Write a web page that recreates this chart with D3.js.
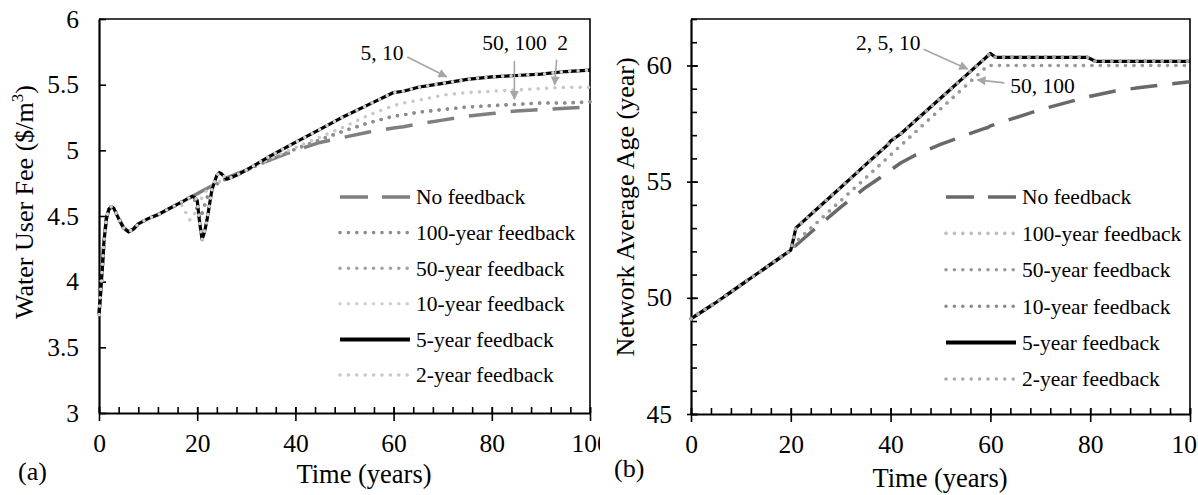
<!DOCTYPE html>
<html>
<head>
<meta charset="utf-8">
<script src="https://cdn.jsdelivr.net/npm/d3@7"></script>
<style>
  html, body { margin: 0; padding: 0; background: #fff; }
  svg { display: block; }
  text { font-family: "Liberation Serif", "Times New Roman", serif; fill: #000; }
</style>
</head>
<body>
<svg id="chart" width="1198" height="495"></svg>
<script>
// ---------- Panel (a): water user fee ----------
const feeYears = [0,0.5,1,1.5,2,2.5,3,4,5,6,7,8,10,12,14,16,
  17,18,18.5,19,19.5,20,20.5,21,21.5,22,23,24,24.5,25,26,28,30,35,40,45,50,55,60,62,65,70,75,80,85,90,95,100];
const feeStart = [3.75,4.0,4.3,4.48,4.55,4.57,4.56,4.48,4.41,4.38,4.40,4.44,4.48,4.51,4.55,4.59];
const feeNoFeedback = feeStart.concat([4.61,4.63,4.64,4.65,4.66,4.67,4.68,4.69,4.70,4.71,4.73,4.75,4.76,4.77,4.79,4.82,4.85,4.93,5.00,5.06,5.10,5.14,5.17,5.18,5.20,5.23,5.26,5.28,5.30,5.31,5.32,5.33]);
const fee100 = feeStart.concat([4.61,4.63,4.64,4.65,4.62,4.55,4.48,4.52,4.58,4.64,4.70,4.74,4.76,4.77,4.78,4.81,4.85,4.93,5.01,5.08,5.15,5.21,5.26,5.27,5.29,5.31,5.33,5.34,5.35,5.36,5.36,5.37]);
const fee50 = feeStart.concat([4.61,4.63,4.64,4.65,4.62,4.55,4.48,4.52,4.58,4.64,4.70,4.74,4.76,4.77,4.78,4.81,4.85,4.93,5.01,5.08,5.15,5.21,5.26,5.27,5.29,5.31,5.33,5.34,5.35,5.36,5.36,5.37]);
const fee10 = feeStart.concat([4.61,4.63,4.64,4.65,4.64,4.62,4.45,4.32,4.38,4.47,4.70,4.81,4.83,4.82,4.78,4.81,4.85,4.96,5.06,5.16,5.26,5.35,5.44,5.45,5.48,5.51,5.54,5.56,5.57,5.58,5.60,5.61]);
const fee5 = feeStart.concat([4.61,4.63,4.64,4.65,4.64,4.62,4.45,4.32,4.38,4.47,4.70,4.81,4.83,4.82,4.78,4.81,4.85,4.96,5.06,5.16,5.26,5.35,5.44,5.45,5.48,5.51,5.54,5.56,5.57,5.58,5.60,5.61]);
const fee2 = feeStart.concat([4.58,4.50,4.47,4.48,4.52,4.57,4.61,4.64,4.67,4.70,4.73,4.75,4.76,4.77,4.78,4.81,4.85,4.94,5.02,5.10,5.18,5.27,5.34,5.36,5.38,5.42,5.44,5.45,5.46,5.47,5.48,5.48]);
const feeTicks = [3,3.5,4,4.5,5,5.5,6];

// ---------- Panel (b): network average age ----------
const ageYears = [0,5,10,15,19,20,20.5,21,25,30,35,39.5,40,42,45,50,55,59,59.5,60,61,70,79.5,81,85,90,95,100];
const ageNoFeedback = [49.1,49.8,50.55,51.3,51.9,52.05,52.15,52.25,53.0,53.9,54.75,55.4,55.5,55.8,56.15,56.6,57.0,57.3,57.33,57.4,57.47,58.1,58.65,58.72,58.9,59.05,59.18,59.3];
const age100 = [49.1,49.8,50.55,51.3,51.9,52.05,52.2,52.4,53.19,54.18,55.16,56.05,56.15,56.55,57.14,58.13,59.11,59.9,60.0,60.0,60.0,60.0,60.0,60.0,60.0,60.0,60.0,60.0];
const age50 = [49.1,49.8,50.55,51.3,51.9,52.05,52.2,52.4,53.19,54.18,55.16,56.05,56.15,56.55,57.14,58.13,59.11,59.9,60.0,60.0,60.0,60.0,60.0,60.0,60.0,60.0,60.0,60.0];
const age10 = [49.1,49.8,50.55,51.3,51.9,52.05,52.5,53.0,53.78,54.75,55.73,56.6,56.75,57.05,57.63,58.59,59.55,60.32,60.42,60.52,60.35,60.35,60.35,60.18,60.18,60.18,60.18,60.18];
const age5 = [49.1,49.8,50.55,51.3,51.9,52.05,52.5,53.0,53.78,54.75,55.73,56.6,56.75,57.05,57.63,58.59,59.55,60.32,60.42,60.52,60.35,60.35,60.35,60.18,60.18,60.18,60.18,60.18];
const age2 = [49.1,49.8,50.55,51.3,51.9,52.05,52.5,53.0,53.78,54.75,55.73,56.6,56.75,57.05,57.63,58.59,59.55,60.32,60.42,60.52,60.35,60.35,60.35,60.18,60.18,60.18,60.18,60.18];
const ageTicks = [45,50,55,60];

const legendLabels = ["No feedback","100-year feedback","50-year feedback","10-year feedback","5-year feedback","2-year feedback"];
const xMajor = [0,20,40,60,80,100];

const svg = d3.select("#chart");
const FONT = "'Liberation Serif', 'Times New Roman', serif";
const defs = svg.append("defs");

// arrowhead for the callouts
defs.append("marker")
  .attr("id", "arrowhead").attr("viewBox", "0 0 10 10")
  .attr("refX", 9).attr("refY", 5)
  .attr("markerWidth", 12).attr("markerHeight", 9)
  .attr("markerUnits", "userSpaceOnUse")
  .attr("orient", "auto")
  .append("path").attr("d", "M0,0 L10,5 L0,10 Z").attr("fill", "#a6a6a6");

// each panel is cut at its own edge, like two figures placed side by side
defs.append("clipPath").attr("id", "clipA")
  .append("rect").attr("x", 0).attr("y", 0).attr("width", 600).attr("height", 495);
defs.append("clipPath").attr("id", "clipB")
  .append("rect").attr("x", 600).attr("y", 0).attr("width", 598).attr("height", 495);

function styleFor(kind, color) {
  if (kind === "dash") return { color, width: 3.5, dash: "27 15", cap: "butt" };
  if (kind === "solid") return { color, width: 3.2, dash: null, cap: "butt" };
  return { color, width: 3.6, dash: "0 8.4", cap: "round" };
}

function drawPanel(cfg) {
  const g = svg.append("g").attr("clip-path", `url(#${cfg.clip})`);
  const x = d3.scaleLinear().domain([0, 100]).range([cfg.left, cfg.right]);
  const y = d3.scaleLinear().domain(cfg.yDomain).range([cfg.bottom, cfg.top]);

  // frame (top and right)
  g.append("path")
    .attr("d", `M${cfg.left},${cfg.top}H${cfg.right}V${cfg.bottom}`)
    .attr("fill", "none").attr("stroke", "#000").attr("stroke-width", 1.6);

  // x axis: minor ticks inside, major ticks crossing
  const xMinor = d3.range(0, 101, 4);
  g.append("g").attr("transform", `translate(0,${cfg.bottom})`)
    .call(d3.axisBottom(x).tickValues(xMinor).tickSize(-6).tickFormat(""))
    .call(a => a.select(".domain").remove())
    .call(a => a.selectAll("line").attr("stroke-width", 1.6));
  g.append("g").attr("transform", `translate(0,${cfg.bottom})`)
    .call(d3.axisBottom(x).tickValues(xMajor).tickSize(8).tickPadding(13).tickSizeOuter(0))
    .call(a => a.select(".domain").attr("stroke-width", 2.2))
    .call(a => a.selectAll("line").attr("stroke-width", 1.6))
    .call(a => a.selectAll("text").attr("font-family", FONT).attr("font-size", 25.5).attr("fill", "#000"));
  g.append("g").attr("transform", `translate(0,${cfg.bottom})`)
    .call(d3.axisBottom(x).tickValues(xMajor).tickSize(-6).tickFormat(""))
    .call(a => a.select(".domain").remove())
    .call(a => a.selectAll("line").attr("stroke-width", 1.6));

  // y axis
  if (cfg.yMinor) {
    g.append("g").attr("transform", `translate(${cfg.left},0)`)
      .call(d3.axisLeft(y).tickValues(cfg.yMinor).tickSize(-6).tickFormat(""))
      .call(a => a.select(".domain").remove())
      .call(a => a.selectAll("line").attr("stroke-width", 1.6));
  }
  g.append("g").attr("transform", `translate(${cfg.left},0)`)
    .call(d3.axisLeft(y).tickValues(cfg.yTicks).tickSize(cfg.yOut).tickPadding(cfg.yPad).tickSizeOuter(0)
      .tickFormat(d3.format("")))
    .call(a => a.select(".domain").attr("stroke-width", 2.2))
    .call(a => a.selectAll("line").attr("stroke-width", 1.6))
    .call(a => a.selectAll("text").attr("font-family", FONT).attr("font-size", 25.5).attr("fill", "#000"));
  g.append("g").attr("transform", `translate(${cfg.left},0)`)
    .call(d3.axisLeft(y).tickValues(cfg.yTicks).tickSize(-7).tickFormat(""))
    .call(a => a.select(".domain").remove())
    .call(a => a.selectAll("line").attr("stroke-width", 1.6));

  // series
  const line = d3.line().x(d => x(d[0])).y(d => y(d[1]));
  cfg.order.forEach(i => {
    const s = cfg.series[i];
    const st = styleFor(s.kind, s.color);
    g.append("path")
      .datum(cfg.years.map((t, k) => [t, s.values[k]]))
      .attr("d", line)
      .attr("fill", "none")
      .attr("stroke", st.color)
      .attr("stroke-width", st.width)
      .attr("stroke-linecap", st.cap)
      .attr("stroke-linejoin", "round")
      .attr("stroke-dasharray", st.dash);
  });

  // legend
  cfg.series.forEach((s, i) => {
    const st = styleFor(s.kind, s.color);
    const ly = cfg.legendTop + i * cfg.legendStep;
    g.append("line")
      .attr("x1", cfg.legendX).attr("x2", cfg.legendX + 70)
      .attr("y1", ly).attr("y2", ly)
      .attr("stroke", st.color).attr("stroke-width", s.kind === "solid" ? 4 : st.width)
      .attr("stroke-linecap", st.cap)
      .attr("stroke-dasharray", s.kind === "dash" ? "28 14" : st.dash);
    g.append("text")
      .attr("x", cfg.legendX + 76).attr("y", ly).attr("dy", "0.34em")
      .attr("font-size", 21.5).text(legendLabels[i]);
  });

  // callouts
  cfg.notes.forEach(n => {
    g.append("line")
      .attr("x1", x(n.from[0])).attr("y1", y(n.from[1]))
      .attr("x2", x(n.to[0])).attr("y2", y(n.to[1]))
      .attr("stroke", "#a6a6a6").attr("stroke-width", 1.6)
      .attr("marker-end", "url(#arrowhead)");
    g.append("text")
      .attr("x", x(n.at[0])).attr("y", y(n.at[1])).attr("dy", "0.34em")
      .attr("text-anchor", n.anchor).attr("font-size", 21.5).text(n.text);
  });

  return g;
}

// ---- panel (a)
const ga = drawPanel({
  clip: "clipA",
  left: 99, right: 590, top: 19, bottom: 413,
  yDomain: [3, 6], yTicks: feeTicks, yOut: 0, yPad: 20,
  years: feeYears,
  series: [
    { values: feeNoFeedback, kind: "dash", color: "#7f7f7f" },
    { values: fee100, kind: "dot", color: "#8c8c8c" },
    { values: fee50, kind: "dot", color: "#a0a0a0" },
    { values: fee10, kind: "dot", color: "#d0d0d0" },
    { values: fee5, kind: "solid", color: "#000000" },
    { values: fee2, kind: "dot", color: "#c8c8c8" }
  ],
  order: [0, 2, 1, 5, 4, 3],
  legendX: 340, legendTop: 197, legendStep: 35.6,
  notes: [
    { text: "5, 10", at: [62, 5.74], anchor: "end", from: [62.8, 5.71], to: [70.8, 5.56] },
    { text: "50, 100", at: [84.6, 5.82], anchor: "middle", from: [84.6, 5.68], to: [84.6, 5.39] },
    { text: "2", at: [94.4, 5.82], anchor: "middle", from: [93.2, 5.69], to: [92.8, 5.50] }
  ]
});

// ---- panel (b)
const gb = drawPanel({
  clip: "clipB",
  left: 691, right: 1190, top: 19, bottom: 414,
  yDomain: [45, 62], yTicks: ageTicks, yMinor: d3.range(45, 63, 1), yOut: 4, yPad: 15,
  years: ageYears,
  series: [
    { values: ageNoFeedback, kind: "dash", color: "#696969" },
    { values: age100, kind: "dot", color: "#bdbdbd" },
    { values: age50, kind: "dot", color: "#9a9a9a" },
    { values: age10, kind: "dot", color: "#8a8a8a" },
    { values: age5, kind: "solid", color: "#000000" },
    { values: age2, kind: "dot", color: "#aaaaaa" }
  ],
  order: [0, 1, 2, 4, 3, 5],
  legendX: 946, legendTop: 197, legendStep: 36.4,
  notes: [
    { text: "2, 5, 10", at: [46, 61.0], anchor: "end", from: [46.6, 60.7], to: [55.4, 59.85] },
    { text: "50, 100", at: [64, 59.15], anchor: "start", from: [62.8, 59.25], to: [57.4, 59.38] }
  ]
});

// axis titles and panel letters
ga.append("text")
  .attr("transform", "translate(33,202) rotate(-90)")
  .attr("text-anchor", "middle").attr("font-size", 26)
  .call(t => {
    t.append("tspan").text("Water User Fee ($/m");
    t.append("tspan").attr("font-size", 17).attr("dy", -10).text("3");
    t.append("tspan").attr("dy", 10).text(")");
  });
gb.append("text")
  .attr("transform", "translate(634,207) rotate(-90)")
  .attr("text-anchor", "middle").attr("font-size", 26)
  .text("Network Average Age (year)");

ga.append("text").attr("x", 364).attr("y", 483).attr("text-anchor", "middle")
  .attr("font-size", 26.5).text("Time (years)");
gb.append("text").attr("x", 940).attr("y", 487).attr("text-anchor", "middle")
  .attr("font-size", 26.5).text("Time (years)");
ga.append("text").attr("x", 18).attr("y", 480).attr("font-size", 26).text("(a)");
gb.append("text").attr("x", 614).attr("y", 477).attr("font-size", 26).text("(b)");
</script>
</body>
</html>
